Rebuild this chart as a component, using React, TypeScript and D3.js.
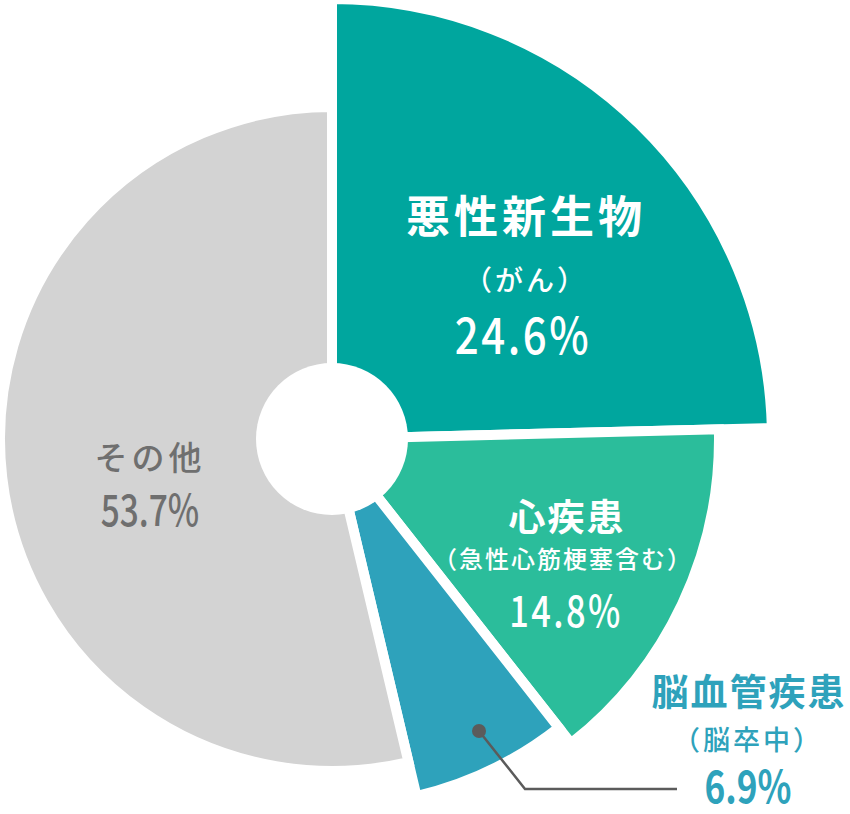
import React from "react";
import * as d3 from "d3";

const categories = ["悪性新生物", "心疾患", "脳血管疾患", "その他"];
const subLabels = ["（がん）", "（急性心筋梗塞含む）", "（脳卒中）", ""];
const values = [24.6, 14.8, 6.9, 53.7];

const W = 850;
const H = 814;
const CX = 332;
const CY = 439;
const GAP = 10;
const outerRadii = [440, 387, 367, 332];
const colors = ["#00a69e", "#2bbd9b", "#2ea2bb", "#d3d3d3"];
const JP = "'Noto Sans CJK JP', 'Noto Sans', sans-serif";

export default function App() {
  const pie = d3
    .pie<number>()
    .sort(null)
    .startAngle(0)
    .endAngle(2 * Math.PI)
    .value((d) => d);
  const arcs = pie(values);
  const arcGen = d3.arc<d3.PieArcDatum<number>>().innerRadius(0);

  const pct = (v: number) => `${v.toFixed(1)}%`;

  return (
    <svg
      width={W}
      height={H}
      viewBox={`0 0 ${W} ${H}`}
      style={{ position: "absolute", left: 0, top: 0 }}
    >
      <rect width={W} height={H} fill="#ffffff" />
      <g transform={`translate(${CX},${CY})`}>
        {arcs.map((a, i) => (
          <path
            key={categories[i]}
            d={arcGen.outerRadius(outerRadii[i])(a) || ""}
            fill={colors[i]}
            stroke="#ffffff"
            strokeWidth={GAP}
            strokeLinejoin="miter"
          />
        ))}
        <circle r={76} fill="#ffffff" />
      </g>

      {/* 悪性新生物 */}
      <g fill="#ffffff" fontFamily={JP} textAnchor="middle" dominantBaseline="central">
        <text x={526} y={214} fontSize={44} fontWeight={700} letterSpacing={4}>
          {categories[0]}
        </text>
        <text x={526} y={279} fontSize={28} fontWeight={500} letterSpacing={3}>
          {subLabels[0]}
        </text>
        <text
          transform="translate(523,332) scale(0.84,1)"
          fontSize={50}
          fontWeight={500}
          letterSpacing={3}
        >
          {pct(values[0])}
        </text>
      </g>

      {/* 心疾患 */}
      <g fill="#ffffff" fontFamily={JP} textAnchor="middle" dominantBaseline="central">
        <text x={567} y={515} fontSize={37} fontWeight={700} letterSpacing={2}>
          {categories[1]}
        </text>
        <text x={563} y={557} fontSize={24} fontWeight={500} letterSpacing={2}>
          {subLabels[1]}
        </text>
        <text
          transform="translate(566,608) scale(0.8,1)"
          fontSize={43}
          fontWeight={500}
          letterSpacing={3}
        >
          {pct(values[1])}
        </text>
      </g>

      {/* その他 */}
      <g fill="#6f6f6f" fontFamily={JP} textAnchor="middle" dominantBaseline="central">
        <text x={150} y={456} fontSize={33} fontWeight={500} letterSpacing={4}>
          {categories[3]}
        </text>
        <text
          transform="translate(150,507) scale(0.76,1)"
          fontSize={44}
          fontWeight={500}
        >
          {pct(values[3])}
        </text>
      </g>

      {/* 脳血管疾患 leader */}
      <polyline
        points="479,731 525,789 677,789"
        fill="none"
        stroke="#5b5b5b"
        strokeWidth={2.5}
      />
      <circle cx={479} cy={731} r={7} fill="#5b5b5b" />

      <g fill="#2ea2bb" fontFamily={JP} textAnchor="middle" dominantBaseline="central">
        <text x={749} y={690} fontSize={37} fontWeight={700} letterSpacing={2}>
          {categories[2]}
        </text>
        <text x={748} y={738} fontSize={27} fontWeight={500} letterSpacing={3}>
          {subLabels[2]}
        </text>
        <text
          transform="translate(748,784) scale(0.8,1)"
          fontSize={44}
          fontWeight={700}
        >
          {pct(values[2])}
        </text>
      </g>
    </svg>
  );
}
